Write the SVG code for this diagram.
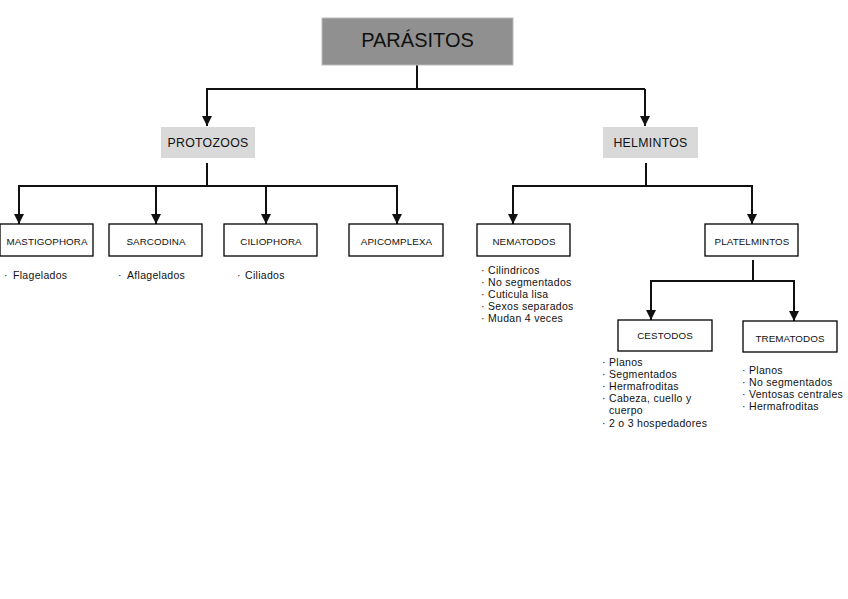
<svg xmlns="http://www.w3.org/2000/svg" width="848" height="599" viewBox="0 0 848 599">
<style>
.box{fill:#fff;stroke:#000;stroke-width:1.3}
.lbl{font-family:"Liberation Sans",Arial,sans-serif;font-size:9.8px;fill:#111;text-anchor:middle;letter-spacing:0.1px}
.hd{font-family:"Liberation Sans",Arial,sans-serif;font-size:12.3px;fill:#111;text-anchor:middle;letter-spacing:0.3px}
.li{font-family:"Liberation Sans",Arial,sans-serif;font-size:10.5px;fill:#111;letter-spacing:0.3px}
.c{fill:none;stroke:#111;stroke-width:2}
</style>
<defs>
<marker id="ah" viewBox="0 0 10 10" refX="10" refY="5" markerWidth="5" markerHeight="5" orient="auto" markerUnits="strokeWidth">
<path d="M0,0 L10,5 L0,10 z" fill="#111"/>
</marker>
</defs>
<rect width="848" height="599" fill="#fff"/>
<g id="connectors">
<path class="c" d="M417,65 V89"/>
<path class="c" d="M206,89 H645"/>
<path class="c" d="M207,89 V126" marker-end="url(#ah)"/>
<path class="c" d="M645,89 V126" marker-end="url(#ah)"/>
<path class="c" d="M207,163 V186"/>
<path class="c" d="M18,186 H398"/>
<path class="c" d="M19,186 V224" marker-end="url(#ah)"/>
<path class="c" d="M156,186 V224" marker-end="url(#ah)"/>
<path class="c" d="M266,186 V224" marker-end="url(#ah)"/>
<path class="c" d="M397,186 V224" marker-end="url(#ah)"/>
<path class="c" d="M646,163 V186"/>
<path class="c" d="M512,186 H753"/>
<path class="c" d="M513,186 V224" marker-end="url(#ah)"/>
<path class="c" d="M752,186 V224" marker-end="url(#ah)"/>
<path class="c" d="M753,260 V281"/>
<path class="c" d="M650,281 H795"/>
<path class="c" d="M651,281 V320" marker-end="url(#ah)"/>
<path class="c" d="M794,281 V321" marker-end="url(#ah)"/>
</g>
<g id="parasitos">
<rect x="322" y="18" width="191" height="47" fill="#909090" stroke="#bbb" stroke-width="1"/>
<text x="417.5" y="47" font-family="'Liberation Sans',Arial,sans-serif" font-size="20" text-anchor="middle" fill="#111">PARÁSITOS</text>
</g>
<g id="protozoos">
<rect x="161" y="127" width="94" height="31" fill="#d9d9d9"/>
<text class="hd" x="208" y="147">PROTOZOOS</text>
</g>
<g id="helmintos">
<rect x="603" y="127" width="95" height="31" fill="#d9d9d9"/>
<text class="hd" x="650.5" y="147">HELMINTOS</text>
</g>
<g id="mastigophora">
<rect class="box" x="0" y="224" width="93" height="32"/>
<text class="lbl" x="47" y="245">MASTIGOPHORA</text>
<text class="li" y="279"><tspan x="4">·</tspan><tspan x="13">Flagelados</tspan></text>
</g>
<g id="sarcodina">
<rect class="box" x="109" y="224" width="93" height="32"/>
<text class="lbl" x="156" y="245">SARCODINA</text>
<text class="li" y="279"><tspan x="118">·</tspan><tspan x="127">Aflagelados</tspan></text>
</g>
<g id="ciliophora">
<rect class="box" x="224" y="224" width="93" height="32"/>
<text class="lbl" x="271" y="245">CILIOPHORA</text>
<text class="li" y="279"><tspan x="237">·</tspan><tspan x="245">Ciliados</tspan></text>
</g>
<g id="apicomplexa">
<rect class="box" x="349" y="224" width="94" height="32"/>
<text class="lbl" x="396.5" y="245">APICOMPLEXA</text>
</g>
<g id="nematodos">
<rect class="box" x="477" y="224" width="93" height="32"/>
<text class="lbl" x="524" y="245">NEMATODOS</text>
<text class="li" y="274"><tspan x="481">·</tspan><tspan x="488">Cilindricos</tspan></text>
<text class="li" y="286"><tspan x="481">·</tspan><tspan x="488">No segmentados</tspan></text>
<text class="li" y="298"><tspan x="481">·</tspan><tspan x="488">Cuticula lisa</tspan></text>
<text class="li" y="310"><tspan x="481">·</tspan><tspan x="488">Sexos separados</tspan></text>
<text class="li" y="322"><tspan x="481">·</tspan><tspan x="488">Mudan 4 veces</tspan></text>
</g>
<g id="platelmintos">
<rect class="box" x="705" y="224" width="93" height="32"/>
<text class="lbl" x="752" y="245">PLATELMINTOS</text>
</g>
<g id="cestodos">
<rect class="box" x="618" y="320" width="94" height="31"/>
<text class="lbl" x="665" y="338.5">CESTODOS</text>
<text class="li" y="366"><tspan x="602">·</tspan><tspan x="609">Planos</tspan></text>
<text class="li" y="378"><tspan x="602">·</tspan><tspan x="609">Segmentados</tspan></text>
<text class="li" y="390"><tspan x="602">·</tspan><tspan x="609">Hermafroditas</tspan></text>
<text class="li" y="402"><tspan x="602">·</tspan><tspan x="609">Cabeza, cuello y</tspan></text>
<text class="li" x="609" y="414">cuerpo</text>
<text class="li" y="427"><tspan x="602">·</tspan><tspan x="609">2 o 3 hospedadores</tspan></text>
</g>
<g id="trematodos">
<rect class="box" x="743" y="321" width="94" height="31"/>
<text class="lbl" x="790" y="342">TREMATODOS</text>
<text class="li" y="374"><tspan x="742">·</tspan><tspan x="749">Planos</tspan></text>
<text class="li" y="386"><tspan x="742">·</tspan><tspan x="749">No segmentados</tspan></text>
<text class="li" y="398"><tspan x="742">·</tspan><tspan x="749">Ventosas centrales</tspan></text>
<text class="li" y="410"><tspan x="742">·</tspan><tspan x="749">Hermafroditas</tspan></text>
</g>
</svg>
